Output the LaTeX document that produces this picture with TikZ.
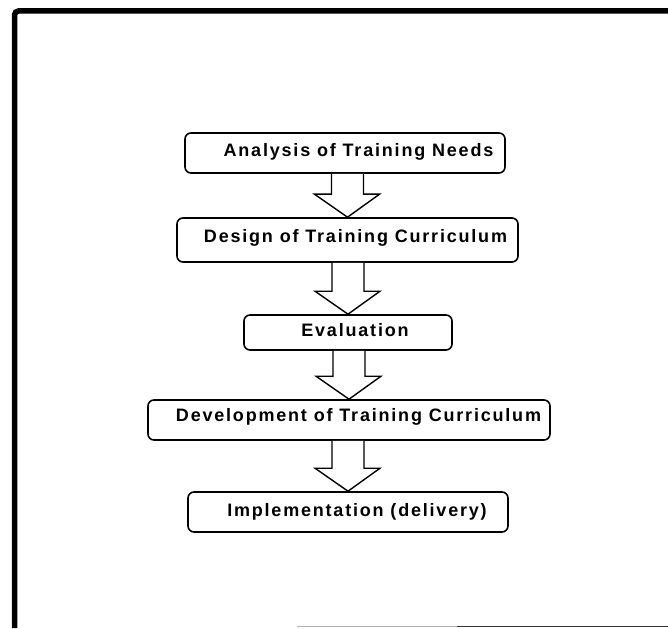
\documentclass[tikz,border=0pt]{standalone}
\usepackage{fontspec}
\setmainfont{Liberation Sans}
\newfontfamily\labfont[LetterSpace=10]{Liberation Sans}
\usetikzlibrary{calc}
\begin{document}
\begin{tikzpicture}[x=1pt,y=-1pt,
  stagebox/.style={draw, line width=1.6pt, rounded corners=6pt, inner sep=0pt},
  stagetext/.style={font=\labfont\bfseries\fontsize{18}{21}\selectfont, inner sep=0pt},
  flowarrow/.style={draw, line width=1.4pt, fill=white, line join=miter},
  frameline/.style={line width=5.5pt}]
\useasboundingbox[fill=white] (0,0) rectangle (668,628);
% frame
\coordinate (fbl) at (14.5,628);
\coordinate (ftl) at (14.5,11);
\coordinate (ftr) at (668,11);
\draw[frameline, rounded corners=4pt] (fbl) -- (ftl) -- (ftr);
\coordinate (bl1) at (297,626.5);
\coordinate (bl2) at (457,626.5);
\coordinate (bl3) at (668,626.5);
\draw[line width=1.2pt, gray!60] (bl1) -- (bl2);
\draw[line width=1.6pt, black!80] (bl2) -- (bl3);
% boxes
\node[stagebox, minimum width=320, minimum height=40] (b1) at (345,153) {};
\node[stagebox, minimum width=341, minimum height=44] (b2) at (347.5,240) {};
\node[stagebox, minimum width=208, minimum height=35] (b3) at (348,332.5) {};
\node[stagebox, minimum width=402, minimum height=40] (b4) at (349,420) {};
\node[stagebox, minimum width=320, minimum height=40] (b5) at (348,512) {};
% texts
\node[stagetext] (t1) at (358.5,152) {Analysis of Training Needs};
\node[stagetext] (t2) at (355.5,238) {Design of Training Curriculum};
\node[stagetext] (t3) at (355,330) {Evaluation};
\node[stagetext] (t4) at (358.5,417) {Development of Training Curriculum};
\node[stagetext] (t5) at (357,512) {Implementation (delivery)};
% arrows
\foreach \a/\b in {b1/b2,b2/b3,b3/b4,b4/b5}{
  \draw[flowarrow] let \p1=(\a.south), \p2=(\b.north) in
    (\x2-16pt,\y1) -- (\x2-16pt,\y2+23pt) -- (\x2-33pt,\y2+23pt) -- (\p2)
    -- (\x2+32pt,\y2+23pt) -- (\x2+16pt,\y2+23pt) -- (\x2+16pt,\y1);
}
\end{tikzpicture}
\end{document}
